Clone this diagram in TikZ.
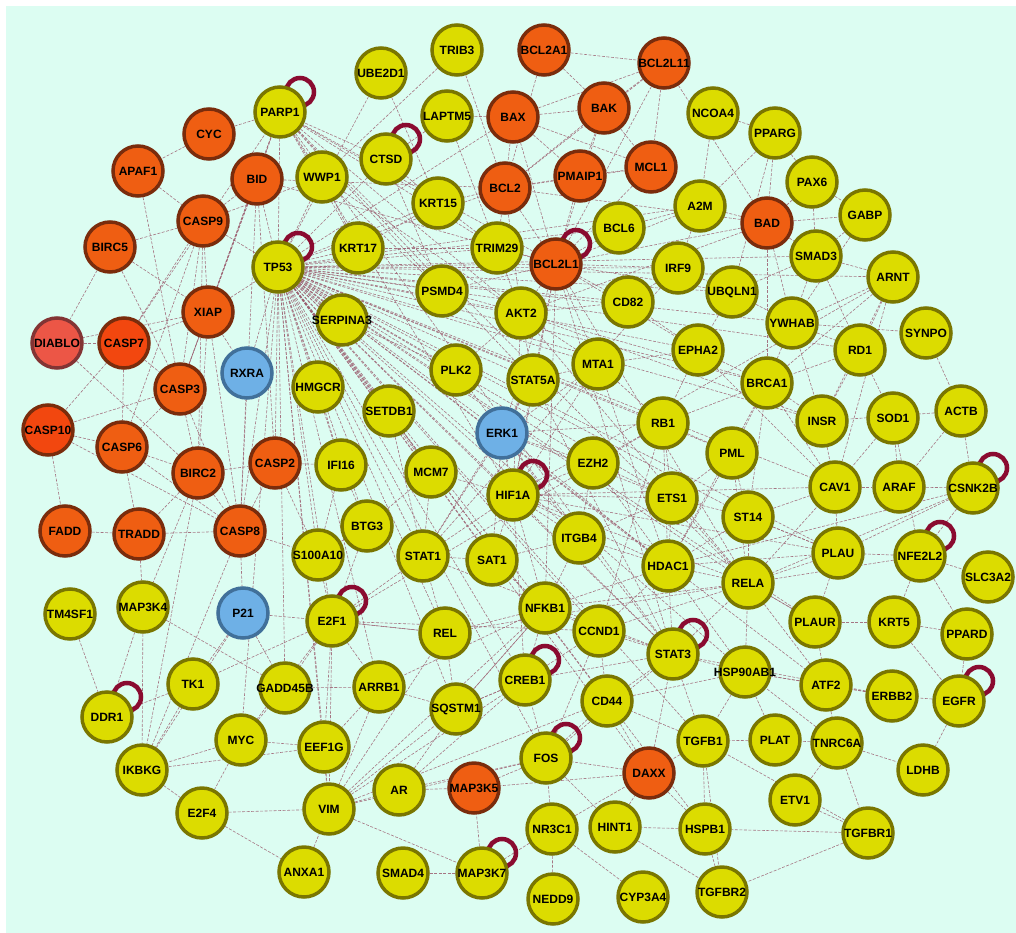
\documentclass[tikz,border=0pt]{standalone}
\usepackage{fontspec}
\setmainfont{Liberation Sans}
\usepackage{xcolor}
\usepackage{tikz}
\usetikzlibrary{backgrounds}
\definecolor{mintbg}{HTML}{DCFDF2}
\definecolor{geneyellow}{HTML}{DCDC00}
\definecolor{geneolive}{HTML}{7A7600}
\definecolor{apoporange}{HTML}{EF5E12}
\definecolor{apopbrown}{HTML}{7A2C0C}
\definecolor{casporange}{HTML}{F2470F}
\definecolor{diablored}{HTML}{EC5646}
\definecolor{diablorim}{HTML}{833434}
\definecolor{kinaseblue}{HTML}{6EB0E6}
\definecolor{kinaserim}{HTML}{41709A}
\definecolor{linkmaroon}{HTML}{9C5E70}
\definecolor{loopred}{HTML}{8A0B30}
\newcommand{\gl}[1]{\makebox[0pt]{#1}}

\tikzset{
    genenode/.style={circle, minimum size=50pt, inner sep=0pt, line width=3.5pt},
    yellownode/.style={genenode, fill=geneyellow, draw=geneolive},
    orangenode/.style={genenode, fill=apoporange, draw=apopbrown},
    caspnode/.style={genenode, fill=casporange, draw=apopbrown},
    diablonode/.style={genenode, fill=diablored, draw=diablorim},
    bluenode/.style={genenode, fill=kinaseblue, draw=kinaserim},
    ppiedge/.style={draw=linkmaroon, draw opacity=0.85, line width=0.6pt, dash pattern=on 3pt off 1.5pt},
    selfloop/.style={draw=loopred, line width=4.5pt}
}

\begin{document}
\begin{tikzpicture}[x=1pt, y=-1pt, font=\bfseries\fontsize{12}{12}\selectfont]
    \useasboundingbox (0,0) rectangle (1016,933);

    % Apoptosis genes (orange)
    \node[orangenode] (CYC) at (209,134) {\gl{CYC}};
    \node[orangenode] (APAF1) at (138,171) {\gl{APAF1}};
    \node[orangenode] (BID) at (257,179) {\gl{BID}};
    \node[orangenode] (CASP9) at (203,221) {\gl{CASP9}};
    \node[orangenode] (BIRC5) at (110,247) {\gl{BIRC5}};
    \node[orangenode] (XIAP) at (208,312) {\gl{XIAP}};
    \node[diablonode] (DIABLO) at (57,343) {\gl{DIABLO}};
    \node[caspnode] (CASP7) at (124,343) {\gl{CASP7}};
    \node[orangenode] (CASP3) at (180,389) {\gl{CASP3}};
    \node[caspnode] (CASP10) at (48,430) {\gl{CASP10}};
    \node[orangenode] (CASP6) at (122,447) {\gl{CASP6}};
    \node[orangenode] (BIRC2) at (198,473) {\gl{BIRC2}};
    \node[orangenode] (CASP2) at (275,463) {\gl{CASP2}};
    \node[orangenode] (FADD) at (65,531) {\gl{FADD}};
    \node[orangenode] (TRADD) at (139,534) {\gl{TRADD}};
    \node[orangenode] (CASP8) at (240,531) {\gl{CASP8}};
    \node[orangenode] (BCL2A1) at (544,50) {\gl{BCL2A1}};
    \node[orangenode] (BCL2L11) at (664,63) {\gl{BCL2L11}};
    \node[orangenode] (BAX) at (513,117) {\gl{BAX}};
    \node[orangenode] (BAK) at (604,108) {\gl{BAK}};
    \node[orangenode] (BCL2) at (505,188) {\gl{BCL2}};
    \node[orangenode] (PMAIP1) at (580,176) {\gl{PMAIP1}};
    \node[orangenode] (MCL1) at (651,167) {\gl{MCL1}};
    \node[orangenode] (BCL2L1) at (556,264) {\gl{BCL2L1}};
    \node[orangenode] (BAD) at (767,223) {\gl{BAD}};
    \node[orangenode] (MAP3K5) at (474,788) {\gl{MAP3K5}};
    \node[orangenode] (DAXX) at (649,773) {\gl{DAXX}};

    % Kinases (blue)
    \node[bluenode] (RXRA) at (247,373) {\gl{RXRA}};
    \node[bluenode] (ERK1) at (502,433) {\gl{ERK1}};
    \node[bluenode] (P21) at (243,613) {\gl{P21}};

    % Other genes (yellow), top rows
    \node[yellownode] (TRIB3) at (457,50) {\gl{TRIB3}};
    \node[yellownode] (UBE2D1) at (381,73) {\gl{UBE2D1}};
    \node[yellownode] (PARP1) at (280,112) {\gl{PARP1}};
    \node[yellownode] (LAPTM5) at (447,116) {\gl{LAPTM5}};
    \node[yellownode] (NCOA4) at (713,113) {\gl{NCOA4}};
    \node[yellownode] (PPARG) at (775,133) {\gl{PPARG}};
    \node[yellownode] (CTSD) at (386,159) {\gl{CTSD}};
    \node[yellownode] (WWP1) at (322,177) {\gl{WWP1}};
    \node[yellownode] (PAX6) at (812,182) {\gl{PAX6}};
    \node[yellownode] (KRT15) at (438,203) {\gl{KRT15}};
    \node[yellownode] (A2M) at (700,206) {\gl{A2M}};
    \node[yellownode] (GABP) at (865,215) {\gl{GABP}};
    \node[yellownode] (BCL6) at (619,228) {\gl{BCL6}};
    \node[yellownode] (KRT17) at (358,248) {\gl{KRT17}};
    \node[yellownode] (TRIM29) at (497,248) {\gl{TRIM29}};
    \node[yellownode] (SMAD3) at (816,256) {\gl{SMAD3}};
    \node[yellownode] (TP53) at (278,267) {\gl{TP53}};
    \node[yellownode] (IRF9) at (678,268) {\gl{IRF9}};
    \node[yellownode] (ARNT) at (893,277) {\gl{ARNT}};
    \node[yellownode] (PSMD4) at (442,291) {\gl{PSMD4}};
    \node[yellownode] (UBQLN1) at (732,292) {\gl{UBQLN1}};
    \node[yellownode] (CD82) at (628,302) {\gl{CD82}};
    \node[yellownode] (AKT2) at (521,313) {\gl{AKT2}};
    \node[yellownode] (SERPINA3) at (342,320) {\gl{SERPINA3}};
    \node[yellownode] (YWHAB) at (792,323) {\gl{YWHAB}};
    \node[yellownode] (SYNPO) at (926,333) {\gl{SYNPO}};
    \node[yellownode] (RD1) at (860,350) {\gl{RD1}};
    \node[yellownode] (EPHA2) at (698,350) {\gl{EPHA2}};

    % Middle rows
    \node[yellownode] (MTA1) at (598,364) {\gl{MTA1}};
    \node[yellownode] (PLK2) at (456,370) {\gl{PLK2}};
    \node[yellownode] (STAT5A) at (533,380) {\gl{STAT5A}};
    \node[yellownode] (HMGCR) at (318,387) {\gl{HMGCR}};
    \node[yellownode] (BRCA1) at (767,383) {\gl{BRCA1}};
    \node[yellownode] (ACTB) at (961,411) {\gl{ACTB}};
    \node[yellownode] (SETDB1) at (389,411) {\gl{SETDB1}};
    \node[yellownode] (SOD1) at (893,418) {\gl{SOD1}};
    \node[yellownode] (INSR) at (822,421) {\gl{INSR}};
    \node[yellownode] (RB1) at (663,423) {\gl{RB1}};
    \node[yellownode] (PML) at (732,453) {\gl{PML}};
    \node[yellownode] (EZH2) at (593,463) {\gl{EZH2}};
    \node[yellownode] (IFI16) at (341,465) {\gl{IFI16}};
    \node[yellownode] (MCM7) at (431,472) {\gl{MCM7}};
    \node[yellownode] (CAV1) at (835,487) {\gl{CAV1}};
    \node[yellownode] (ARAF) at (899,487) {\gl{ARAF}};
    \node[yellownode] (CSNK2B) at (973,488) {\gl{CSNK2B}};
    \node[yellownode] (HIF1A) at (513,495) {\gl{HIF1A}};
    \node[yellownode] (ETS1) at (672,498) {\gl{ETS1}};
    \node[yellownode] (ST14) at (748,517) {\gl{ST14}};
    \node[yellownode] (BTG3) at (367,526) {\gl{BTG3}};
    \node[yellownode] (ITGB4) at (579,538) {\gl{ITGB4}};
    \node[yellownode] (PLAU) at (838,553) {\gl{PLAU}};
    \node[yellownode] (S100A10) at (318,555) {\gl{S100A10}};
    \node[yellownode] (STAT1) at (423,556) {\gl{STAT1}};
    \node[yellownode] (NFE2L2) at (920,556) {\gl{NFE2L2}};
    \node[yellownode] (SAT1) at (492,560) {\gl{SAT1}};
    \node[yellownode] (HDAC1) at (668,566) {\gl{HDAC1}};
    \node[yellownode] (SLC3A2) at (988,577) {\gl{SLC3A2}};
    \node[yellownode] (RELA) at (748,583) {\gl{RELA}};

    % Lower rows
    \node[yellownode] (MAP3K4) at (143,607) {\gl{MAP3K4}};
    \node[yellownode] (NFKB1) at (545,608) {\gl{NFKB1}};
    \node[yellownode] (TM4SF1) at (70,614) {\gl{TM4SF1}};
    \node[yellownode] (E2F1) at (332,621) {\gl{E2F1}};
    \node[yellownode] (PLAUR) at (815,622) {\gl{PLAUR}};
    \node[yellownode] (KRT5) at (894,622) {\gl{KRT5}};
    \node[yellownode] (CCND1) at (599,631) {\gl{CCND1}};
    \node[yellownode] (REL) at (445,633) {\gl{REL}};
    \node[yellownode] (PPARD) at (967,634) {\gl{PPARD}};
    \node[yellownode] (STAT3) at (673,654) {\gl{STAT3}};
    \node[yellownode] (HSP90AB1) at (745,672) {\gl{HSP90AB1}};
    \node[yellownode] (CREB1) at (525,680) {\gl{CREB1}};
    \node[yellownode] (TK1) at (193,684) {\gl{TK1}};
    \node[yellownode] (ATF2) at (826,685) {\gl{ATF2}};
    \node[yellownode] (ARRB1) at (379,687) {\gl{ARRB1}};
    \node[yellownode] (GADD45B) at (285,688) {\gl{GADD45B}};
    \node[yellownode] (ERBB2) at (892,696) {\gl{ERBB2}};
    \node[yellownode] (CD44) at (607,701) {\gl{CD44}};
    \node[yellownode] (EGFR) at (959,701) {\gl{EGFR}};
    \node[yellownode] (SQSTM1) at (456,709) {\gl{SQSTM1}};
    \node[yellownode] (DDR1) at (107,717) {\gl{DDR1}};
    \node[yellownode] (MYC) at (241,740) {\gl{MYC}};
    \node[yellownode] (PLAT) at (775,740) {\gl{PLAT}};
    \node[yellownode] (TGFB1) at (703,741) {\gl{TGFB1}};
    \node[yellownode] (TNRC6A) at (837,743) {\gl{TNRC6A}};
    \node[yellownode] (EEF1G) at (324,747) {\gl{EEF1G}};
    \node[yellownode] (FOS) at (546,758) {\gl{FOS}};
    \node[yellownode] (IKBKG) at (142,770) {\gl{IKBKG}};
    \node[yellownode] (LDHB) at (923,770) {\gl{LDHB}};
    \node[yellownode] (AR) at (399,790) {\gl{AR}};
    \node[yellownode] (ETV1) at (795,800) {\gl{ETV1}};
    \node[yellownode] (VIM) at (329,809) {\gl{VIM}};
    \node[yellownode] (E2F4) at (202,813) {\gl{E2F4}};
    \node[yellownode] (HINT1) at (615,827) {\gl{HINT1}};
    \node[yellownode] (NR3C1) at (552,829) {\gl{NR3C1}};
    \node[yellownode] (HSPB1) at (705,829) {\gl{HSPB1}};
    \node[yellownode] (TGFBR1) at (868,833) {\gl{TGFBR1}};
    \node[yellownode] (ANXA1) at (304,872) {\gl{ANXA1}};
    \node[yellownode] (SMAD4) at (403,873) {\gl{SMAD4}};
    \node[yellownode] (MAP3K7) at (482,873) {\gl{MAP3K7}};
    \node[yellownode] (TGFBR2) at (722,892) {\gl{TGFBR2}};
    \node[yellownode] (CYP3A4) at (643,897) {\gl{CYP3A4}};
    \node[yellownode] (NEDD9) at (553,899) {\gl{NEDD9}};

    \begin{scope}[on background layer]
        \fill[mintbg] (6,6) rectangle (1016,933);

        % Apoptosis core
        \foreach \a/\b in {CYC/PARP1,CYC/APAF1,APAF1/CASP9,APAF1/CASP3,BIRC5/CASP9,BIRC5/XIAP,BIRC5/DIABLO,BIRC5/CASP3,
            CASP9/BID,CASP9/TP53,CASP9/XIAP,CASP9/CASP7,CASP9/CASP6,CASP9/CASP3,CASP9/BIRC2,CASP9/WWP1,
            BID/XIAP,BID/CASP3,BID/CASP8,BID/PARP1,BID/BCL2,BID/TP53,BID/CASP2,BID/BCL2L1,
            XIAP/CASP7,XIAP/CASP3,XIAP/DIABLO,XIAP/BIRC2,XIAP/TP53,XIAP/RXRA,XIAP/CASP8,
            DIABLO/CASP7,DIABLO/BIRC2,CASP7/CASP3,CASP7/CASP6,CASP7/CASP10,CASP7/PARP1,
            CASP3/CASP10,CASP3/CASP6,CASP3/BIRC2,CASP3/CASP8,CASP3/PARP1,
            CASP10/CASP6,CASP10/FADD,CASP10/CASP8,CASP6/TRADD,CASP6/BIRC2,CASP6/CASP8,
            BIRC2/CASP8,BIRC2/CASP2,BIRC2/TRADD,BIRC2/MAP3K4,BIRC2/IKBKG,FADD/TRADD,TRADD/CASP8,TRADD/MAP3K4,
            CASP8/RXRA,CASP8/P21,CASP8/IKBKG,CASP8/S100A10,CASP8/TP53,CASP8/CASP2,CASP2/TP53,RXRA/TP53}
            \draw[ppiedge] (\a) -- (\b);

        % BCL2 family
        \foreach \a/\b in {BCL2A1/BCL2L11,BCL2A1/BAK,BCL2A1/BCL2,BCL2L11/BAK,BCL2L11/BAX,BCL2L11/MCL1,BCL2L11/BAD,
            BCL2L11/BCL2,BCL2L11/BCL2L1,BAX/BAK,BAX/MCL1,BAX/BCL2,BAX/BCL2L1,BAX/LAPTM5,BAX/PMAIP1,BAX/TP53,
            BAK/MCL1,BAK/BCL2,BAK/BCL2L1,BAK/PMAIP1,PMAIP1/MCL1,PMAIP1/BCL2,PMAIP1/BCL2L1,MCL1/BCL2L1,MCL1/BCL2,
            BCL2/BCL2L1,BCL2/TP53,BCL2/KRT15,BCL2/TRIM29,BCL2/AKT2,BAD/BCL2L1,BAD/A2M,BAD/BCL2,BAD/YWHAB,
            BAD/GABP,BAD/SMAD3,BAD/AKT2,BAD/BRCA1,BCL2L1/BCL6,BCL2L1/A2M,BCL2L1/AKT2,BCL2L1/TP53,BCL2L1/STAT5A,
            BCL2L1/CD82,BCL2L1/IRF9,BCL2L1/PSMD4,BCL2L1/TRIM29,BCL2L1/PARP1,BCL2L1/HIF1A,BCL2L1/STAT3,
            BCL2L1/RELA,BCL2L1/NFKB1,BCL2L1/MTA1,BCL2L1/ERK1,BCL2L1/UBQLN1,BCL2L1/EPHA2}
            \draw[ppiedge] (\a) -- (\b);

        % Upper middle
        \foreach \a/\b in {TRIB3/WWP1,TRIB3/BCL2,UBE2D1/TP53,UBE2D1/KRT15,LAPTM5/CTSD,LAPTM5/TRIM29,
            CTSD/TP53,CTSD/KRT15,CTSD/PARP1,CTSD/PSMD4,WWP1/TP53,WWP1/KRT17,WWP1/PSMD4,WWP1/AKT2,WWP1/PARP1,
            KRT15/KRT17,KRT15/TP53,KRT15/TRIM29,KRT17/TP53,KRT17/TRIM29,TRIM29/TP53,PSMD4/TP53,
            PARP1/TP53,PARP1/KRT17,PARP1/PSMD4,PARP1/TRIM29,PARP1/AKT2,PARP1/KRT15,PARP1/STAT5A,
            PARP1/HIF1A,PARP1/XIAP,PARP1/RELA,PARP1/STAT3}
            \draw[ppiedge] (\a) -- (\b);

        % TP53 hub
        \foreach \b in {SERPINA3,HMGCR,PLK2,SETDB1,MCM7,IFI16,AKT2,STAT5A,MTA1,EPHA2,ERK1,HIF1A,RB1,PML,
            EZH2,ETS1,BRCA1,YWHAB,HDAC1,RELA,STAT3,STAT1,SAT1,ITGB4,CCND1,NFKB1,ST14,CAV1,INSR,RD1,ARNT,
            CD82,IRF9,BCL6,UBQLN1,SMAD3,S100A10,E2F1,BTG3,MYC,GADD45B,VIM,CREB1,PLAU,HSP90AB1,CD44,
            SQSTM1,ARRB1,EEF1G,REL,FOS,HSPB1,TGFB1,DAXX,A2M,PLAUR,ATF2}
            \draw[ppiedge] (TP53) -- (\b);

        % Right side
        \foreach \a/\b in {PPARG/NCOA4,PPARG/PAX6,PPARG/A2M,PPARG/BAD,PPARG/UBQLN1,PAX6/SMAD3,PAX6/GABP,PAX6/BAD,
            GABP/SMAD3,GABP/YWHAB,SMAD3/YWHAB,SMAD3/UBQLN1,SMAD3/RD1,SMAD3/ARNT,ARNT/YWHAB,ARNT/HIF1A,
            ARNT/BRCA1,ARNT/RD1,ARNT/CAV1,ARNT/INSR,NCOA4/A2M,A2M/IRF9,A2M/BCL6,IRF9/STAT1,IRF9/UBQLN1,
            IRF9/CD82,UBQLN1/YWHAB,UBQLN1/EPHA2,YWHAB/SYNPO,YWHAB/BRCA1,YWHAB/RD1,YWHAB/INSR,SYNPO/ACTB,
            ACTB/CSNK2B,ACTB/ARAF,ACTB/INSR,RD1/INSR,RD1/SOD1,RD1/BRCA1,INSR/CAV1,INSR/AKT2,SOD1/ARAF,
            SOD1/NFE2L2,SOD1/CAV1,CAV1/ARAF,CAV1/PLAU,ARAF/CSNK2B,CSNK2B/NFE2L2,CSNK2B/PLAU,CSNK2B/RELA,
            CSNK2B/HDAC1,NFE2L2/SLC3A2,NFE2L2/PLAU,NFE2L2/KRT5,NFE2L2/RELA,NFE2L2/PPARD,PLAU/PLAUR,PLAU/RELA,
            PLAU/ST14,PLAU/HDAC1,PLAUR/RELA,PLAUR/KRT5,PLAUR/ATF2,KRT5/PPARD,KRT5/EGFR,PPARD/EGFR,
            EGFR/ERBB2,EGFR/LDHB,ERBB2/ATF2,ERBB2/HSP90AB1,ERBB2/STAT3,ATF2/TNRC6A,ATF2/HSP90AB1,ATF2/RELA,
            TNRC6A/LDHB,TNRC6A/TGFBR1,TNRC6A/PLAT,TNRC6A/ETV1,TNRC6A/HSP90AB1,ETV1/TGFBR1,TGFBR1/TGFBR2,
            TGFBR1/HSPB1,TGFBR1/TGFB1,PLAT/TGFB1,PLAT/HSP90AB1,HSP90AB1/STAT3,HSP90AB1/RELA,HSP90AB1/TGFB1,
            HSP90AB1/HDAC1}
            \draw[ppiedge] (\a) -- (\b);

        % Lower middle
        \foreach \a/\b in {TGFB1/HSPB1,TGFB1/TGFBR2,TGFB1/STAT3,TGFB1/DAXX,TGFB1/CD44,HSPB1/TGFBR2,HSPB1/HINT1,
            HSPB1/DAXX,HINT1/DAXX,HINT1/TGFBR2,NR3C1/NEDD9,NR3C1/DAXX,NR3C1/FOS,NR3C1/CYP3A4,NR3C1/MAP3K7,
            DAXX/FOS,DAXX/STAT3,DAXX/MAP3K5,DAXX/CD44,FOS/CREB1,FOS/CD44,FOS/MAP3K5,FOS/AR,FOS/HINT1,FOS/STAT3,
            FOS/CCND1,CREB1/CCND1,CREB1/SQSTM1,CREB1/NFKB1,CREB1/STAT3,CD44/CCND1,CD44/STAT3,CD44/HSP90AB1,
            CCND1/STAT3,CCND1/NFKB1,CCND1/HDAC1,CCND1/RELA,CCND1/E2F1,CCND1/RB1,STAT3/HDAC1,STAT3/RELA,
            STAT3/NFKB1,STAT3/HIF1A,STAT3/STAT1,STAT3/STAT5A}
            \draw[ppiedge] (\a) -- (\b);

        % Centre
        \foreach \a/\b in {ERK1/HIF1A,ERK1/STAT5A,ERK1/PLK2,ERK1/MTA1,ERK1/EZH2,ERK1/ETS1,ERK1/RB1,ERK1/STAT1,
            ERK1/SAT1,ERK1/ITGB4,ERK1/HDAC1,ERK1/STAT3,HIF1A/STAT5A,HIF1A/SAT1,HIF1A/ITGB4,HIF1A/STAT1,
            HIF1A/EZH2,HIF1A/ETS1,HIF1A/HDAC1,HIF1A/RELA,HIF1A/NFKB1,HIF1A/CREB1,HIF1A/MCM7,HIF1A/AKT2,
            HIF1A/MTA1,HIF1A/PLAU,HIF1A/CAV1,AKT2/STAT5A,AKT2/MTA1,AKT2/PLK2,AKT2/PSMD4,AKT2/TRIM29,AKT2/CD82,
            AKT2/RELA,AKT2/BRCA1,STAT5A/MTA1,STAT5A/STAT1,MTA1/HDAC1,MTA1/EPHA2,MTA1/RB1,EPHA2/BRCA1,
            EPHA2/RB1,EPHA2/CD82,EPHA2/CAV1,RB1/ETS1,RB1/HDAC1,RB1/PML,RB1/BRCA1,RB1/E2F1,RB1/EZH2,PML/HDAC1,
            PML/ST14,PML/BRCA1,PML/RELA,PML/ETS1,EZH2/HDAC1,EZH2/ITGB4,EZH2/ETS1,ETS1/HDAC1,ETS1/ITGB4,
            ETS1/ST14,ETS1/RELA,ST14/RELA,ST14/HDAC1,ST14/PLAU,ST14/CAV1,HDAC1/RELA,HDAC1/NFKB1,HDAC1/ITGB4,
            RELA/NFKB1,RELA/REL,RELA/PLAUR,RELA/CAV1,NFKB1/REL,NFKB1/SAT1,NFKB1/ITGB4,NFKB1/SQSTM1,
            NFKB1/ARRB1,REL/SQSTM1,REL/E2F1,REL/STAT1,SAT1/STAT1,SAT1/ITGB4,BRCA1/CAV1,BRCA1/INSR,BRCA1/ST14,
            BRCA1/HDAC1}
            \draw[ppiedge] (\a) -- (\b);

        % Left middle and lower left
        \foreach \a/\b in {SERPINA3/PLK2,HMGCR/IFI16,SETDB1/MCM7,SETDB1/STAT1,IFI16/BTG3,IFI16/S100A10,
            MCM7/STAT1,MCM7/BTG3,BTG3/S100A10,BTG3/E2F1,S100A10/E2F1,S100A10/CASP2,CASP2/IFI16,P21/E2F1,P21/TK1,
            P21/GADD45B,P21/IKBKG,E2F1/GADD45B,E2F1/ARRB1,E2F1/REL,E2F1/EEF1G,E2F1/VIM,E2F1/MYC,E2F1/TK1,
            E2F1/STAT1,TM4SF1/DDR1,MAP3K4/DDR1,MAP3K4/IKBKG,MAP3K4/GADD45B,DDR1/TK1,TK1/IKBKG,MYC/IKBKG,
            MYC/E2F4,MYC/GADD45B,MYC/EEF1G,IKBKG/E2F4,IKBKG/EEF1G,E2F4/ANXA1,E2F4/VIM,GADD45B/ARRB1,
            ARRB1/SQSTM1,ARRB1/VIM,ARRB1/EEF1G,EEF1G/VIM,ANXA1/VIM,VIM/AR,VIM/MAP3K7,VIM/SQSTM1,VIM/CREB1,
            VIM/REL,VIM/NFKB1,VIM/FOS,VIM/CD44,AR/MAP3K5,AR/SQSTM1,AR/CREB1,SMAD4/MAP3K7,MAP3K7/MAP3K5,
            SQSTM1/CREB1,SQSTM1/NFKB1}
            \draw[ppiedge] (\a) -- (\b);

        % Self loops
        \foreach \n in {PARP1,CTSD,TP53,BCL2L1,HIF1A,CSNK2B,NFE2L2,E2F1,DDR1,CREB1,STAT3,FOS,MAP3K7,EGFR}
            \draw[selfloop] ([shift={(20,-20)}]\n.center) circle (14pt);
    \end{scope}
\end{tikzpicture}
\end{document}
